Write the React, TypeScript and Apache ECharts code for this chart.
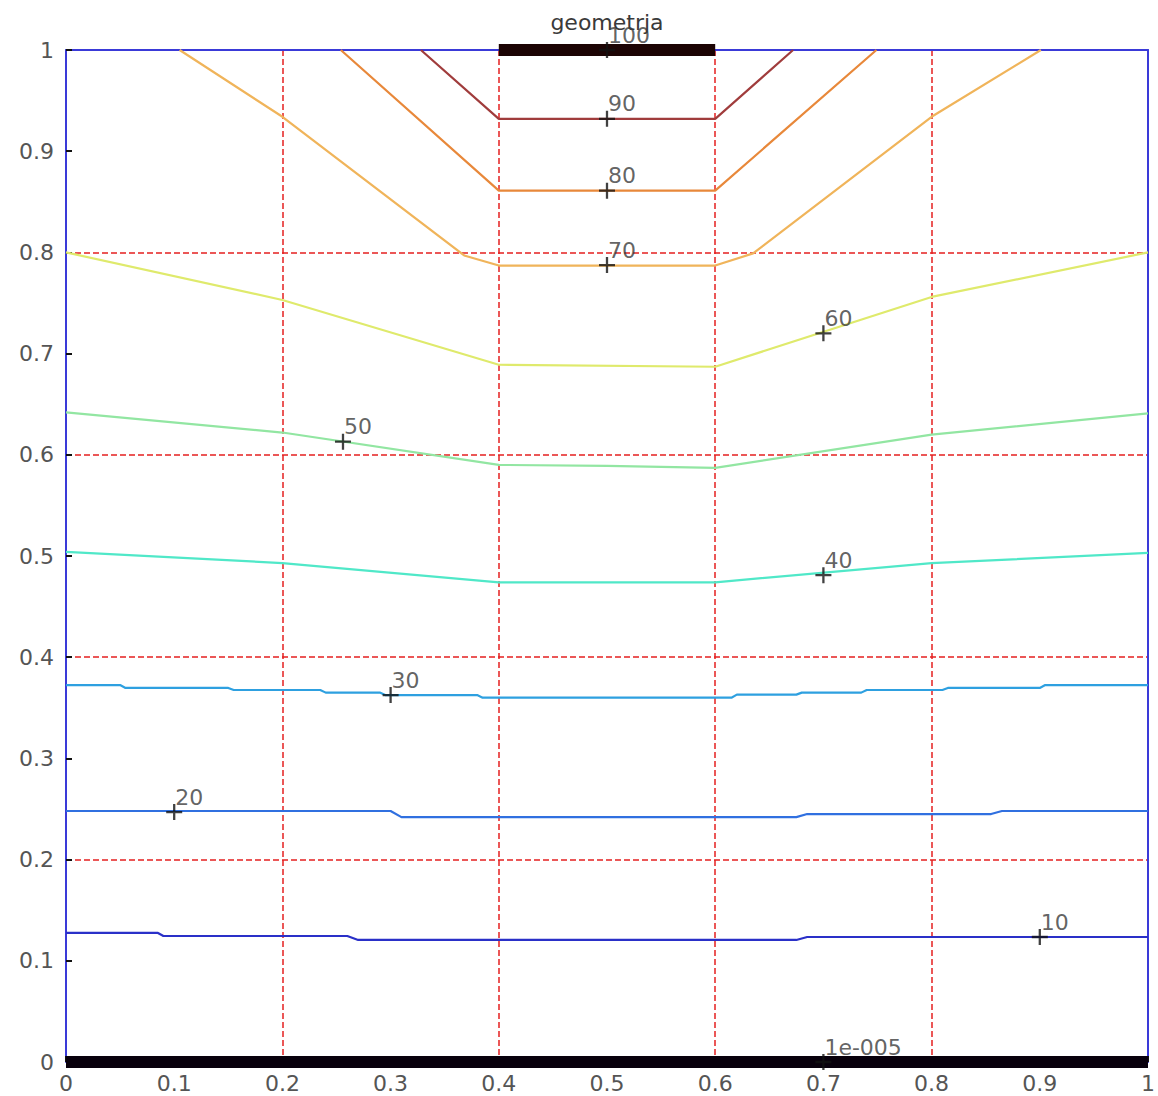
import React, { useEffect, useRef } from "react";
import * as echarts from "echarts";

// contour levels (x, y)
const c0 = [[0, 0], [1, 0]];
const c10 = [[0, 0.1275], [0.085, 0.1275], [0.09, 0.1245], [0.26, 0.1245], [0.27, 0.1206], [0.675, 0.1206], [0.685, 0.1235], [1, 0.1235]];
const c20 = [[0, 0.248], [0.3, 0.248], [0.31, 0.242], [0.675, 0.242], [0.685, 0.245], [0.855, 0.245], [0.865, 0.248], [1, 0.248]];
const c30 = [[0, 0.3725], [0.05, 0.3725], [0.055, 0.3696], [0.15, 0.3696], [0.155, 0.3676], [0.235, 0.3676], [0.24, 0.365], [0.29, 0.365], [0.295, 0.3626], [0.38, 0.3626], [0.385, 0.36], [0.615, 0.36], [0.62, 0.363], [0.675, 0.363], [0.68, 0.365], [0.735, 0.365], [0.74, 0.3676], [0.81, 0.3676], [0.815, 0.3696], [0.9, 0.3696], [0.905, 0.3725], [1, 0.3725]];
const c40 = [[0, 0.504], [0.2, 0.493], [0.4, 0.474], [0.6, 0.474], [0.8, 0.493], [1, 0.503]];
const c50 = [[0, 0.642], [0.2, 0.622], [0.4, 0.59], [0.5, 0.589], [0.6, 0.587], [0.8, 0.62], [1, 0.641]];
const c60 = [[0, 0.8], [0.2, 0.753], [0.4, 0.689], [0.6, 0.687], [0.8, 0.756], [1, 0.8]];
const c70 = [[0.105, 1], [0.2, 0.934], [0.368, 0.797], [0.4, 0.787], [0.6, 0.787], [0.635, 0.799], [0.8, 0.934], [0.901, 1]];
const c80 = [[0.254, 1], [0.4, 0.861], [0.6, 0.861], [0.749, 1]];
const c90 = [[0.328, 1], [0.4, 0.932], [0.6, 0.932], [0.672, 1]];
const c100 = [[0.4, 1], [0.6, 1]];

const contourNames = ["1e-005", "10", "20", "30", "40", "50", "60", "70", "80", "90", "100"];
const contourData = [c0, c10, c20, c30, c40, c50, c60, c70, c80, c90, c100];
const contourColors = ["#08000c", "#2a30c8", "#3070e0", "#2ea0e0", "#50e8c8", "#92e6a2", "#dfea6c", "#f0b45a", "#e8883a", "#a03c3c", "#1c0404"];
const contourWidths = [12, 2.2, 2.2, 2.2, 2.2, 2.2, 2.2, 2.2, 2.2, 2.2, 12];

// label positions
const labelX = [0.7, 0.9, 0.1, 0.3, 0.7, 0.256, 0.7, 0.5, 0.5, 0.5, 0.5];
const labelY = [0, 0.1235, 0.247, 0.3626, 0.481, 0.613, 0.72, 0.7875, 0.861, 0.932, 1];
const labelText = ["1e-005", "10", "20", "30", "40", "50", "60", "70", "80", "90", "100"];

const FONT = "DejaVu Sans";

export default function App() {
  const ref = useRef<HTMLDivElement>(null);
  useEffect(() => {
    if (!ref.current) return;
    document.documentElement.style.overflow = "hidden";
    document.body.style.margin = "0";
    document.body.style.overflow = "hidden";
    const chart = echarts.init(ref.current, null, { renderer: "svg" });
    const blue = "#3a3ad8";
    const gridLine = { show: true, lineStyle: { color: "#e52020", width: 1.5, type: [6, 3] }, showMinLine: false, showMaxLine: false };
    const series: any[] = contourData.map((d, i) => ({
      type: "line",
      name: contourNames[i],
      data: d,
      xAxisIndex: 0,
      yAxisIndex: 0,
      showSymbol: false,
      symbol: "none",
      clip: false,
      lineStyle: { color: contourColors[i], width: contourWidths[i], cap: "butt" },
      z: i === 0 || i === 10 ? 3 : 2,
    }));
    series.push({
      type: "scatter",
      xAxisIndex: 0,
      yAxisIndex: 0,
      clip: false,
      symbol: "path://M0,6H14V8H0Z M6,0H8V14H6Z",
      symbolSize: 16,
      itemStyle: { color: "#111" },
      z: 5,
      data: labelX.map((x, i) => ({ value: [x, labelY[i]], name: labelText[i] })),
      label: {
        show: true,
        position: [9, 4],
        align: "left",
        verticalAlign: "bottom",
        formatter: (p: any) => p.name,
        fontFamily: FONT,
        fontSize: 22,
        color: "#3a3a3a",
      },
    });
    chart.setOption({
      animation: false,
      backgroundColor: "#ffffff",
      grid: { left: 66, top: 50, width: 1089, height: 1012 },
      graphic: [
        {
          type: "text",
          x: 607,
          y: 22,
          z: 10,
          style: { text: "geometrja", fontFamily: FONT, fontSize: 22, fill: "#3a3a3a", align: "center", verticalAlign: "middle" },
        },
      ],
      xAxis: [
        {
          type: "value",
          min: 0,
          max: 1,
          interval: 0.1,
          position: "bottom",
          axisLine: { show: false, onZero: false },
          axisTick: { show: true, inside: true, length: 6, lineStyle: { color: "#111", width: 2 } },
          axisLabel: { fontFamily: FONT, fontSize: 22, color: "#555", margin: 10 },
          splitLine: { show: false },
        },
        {
          type: "value",
          min: 0,
          max: 1,
          interval: 0.2,
          position: "top",
          axisLine: { show: true, onZero: false, lineStyle: { color: blue, width: 2 } },
          axisTick: { show: false },
          axisLabel: { show: false },
          splitLine: gridLine,
        },
      ],
      yAxis: [
        {
          type: "value",
          min: 0,
          max: 1,
          interval: 0.1,
          position: "left",
          axisLine: { show: true, onZero: false, lineStyle: { color: blue, width: 2 } },
          axisTick: { show: true, inside: true, length: 6, lineStyle: { color: "#111", width: 2 } },
          axisLabel: { fontFamily: FONT, fontSize: 22, color: "#555", margin: 12 },
          splitLine: { show: false },
        },
        {
          type: "value",
          min: 0,
          max: 1,
          interval: 0.2,
          position: "right",
          axisLine: { show: true, onZero: false, lineStyle: { color: blue, width: 2 } },
          axisTick: { show: false },
          axisLabel: { show: false },
          splitLine: gridLine,
        },
      ],
      series,
    });
    return () => chart.dispose();
  }, []);
  return <div ref={ref} style={{ position: "absolute", left: 0, top: 0, width: 1158, height: 1096 }} />;
}
